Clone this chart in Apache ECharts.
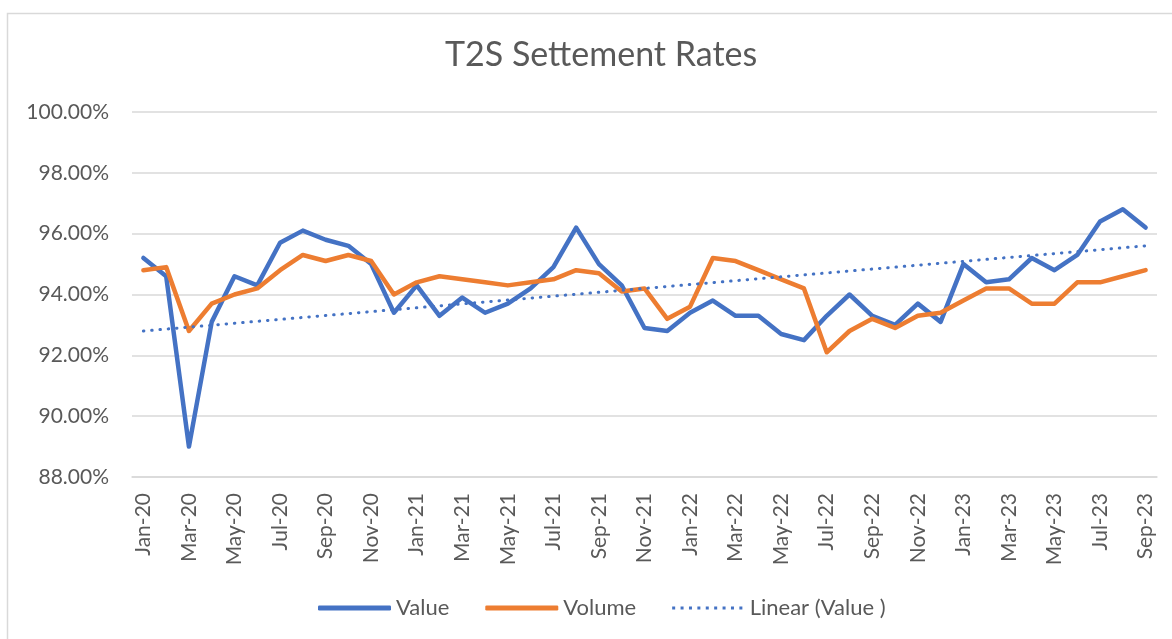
<!DOCTYPE html>
<html>
<head>
<meta charset="utf-8">
<title>T2S Settement Rates</title>
<script src="https://cdn.jsdelivr.net/npm/echarts@6/dist/echarts.min.js"></script>
<style>
  html, body { margin: 0; padding: 0; background: #fff; }
  #chart { width: 1172px; height: 639px; }
</style>
</head>
<body>
<div id="chart"></div>
<script>
// months Jan-20 .. Sep-23
const months = [
  'Jan-20', 'Feb-20', 'Mar-20', 'Apr-20', 'May-20', 'Jun-20', 'Jul-20', 'Aug-20', 'Sep-20', 'Oct-20', 'Nov-20', 'Dec-20',
  'Jan-21', 'Feb-21', 'Mar-21', 'Apr-21', 'May-21', 'Jun-21', 'Jul-21', 'Aug-21', 'Sep-21', 'Oct-21', 'Nov-21', 'Dec-21',
  'Jan-22', 'Feb-22', 'Mar-22', 'Apr-22', 'May-22', 'Jun-22', 'Jul-22', 'Aug-22', 'Sep-22', 'Oct-22', 'Nov-22', 'Dec-22',
  'Jan-23', 'Feb-23', 'Mar-23', 'Apr-23', 'May-23', 'Jun-23', 'Jul-23', 'Aug-23', 'Sep-23'
]

// settlement rate by value (%)
const valueRates = [
  95.2, 94.6, 89.0, 93.1, 94.6, 94.3, 95.7, 96.1, 95.8, 95.6, 95.0, 93.4,
  94.3, 93.3, 93.9, 93.4, 93.7, 94.2, 94.9, 96.2, 95.0, 94.3, 92.9, 92.8,
  93.4, 93.8, 93.3, 93.3, 92.7, 92.5, 93.3, 94.0, 93.3, 93.0, 93.7, 93.1,
  95.0, 94.4, 94.5, 95.2, 94.8, 95.3, 96.4, 96.8, 96.2
]

// settlement rate by volume (%)
const volumeRates = [
  94.8, 94.9, 92.8, 93.7, 94.0, 94.2, 94.8, 95.3, 95.1, 95.3, 95.1, 94.0,
  94.4, 94.6, 94.5, 94.4, 94.3, 94.4, 94.5, 94.8, 94.7, 94.1, 94.2, 93.2,
  93.6, 95.2, 95.1, 94.8, 94.5, 94.2, 92.1, 92.8, 93.2, 92.9, 93.3, 93.4,
  93.8, 94.2, 94.2, 93.7, 93.7, 94.4, 94.4, 94.6, 94.8
]

// Excel's linear trendline as drawn: its two ends
const trendEnds = [92.8, 95.6]
const trendLine = months.map((m, i) =>
  i === 0 ? trendEnds[0] : (i === months.length - 1 ? trendEnds[1] : null))

const textColor = '#595959'
const font = 'Lato, "Open Sans", sans-serif'

// small dotted icon for the trendline legend entry
let dots = 'path://M0,0M72,5'
for (let k = 0; k < 9; k++) dots += 'M' + (k * 8.4) + ',1h3v3h-3z'

const chart = echarts.init(document.getElementById('chart'))
chart.setOption({
  animation: false,
  textStyle: { fontFamily: font, color: textColor },
  title: {
    text: 'T2S Settement Rates',
    left: 440,
    top: 33,
    textStyle: { fontFamily: font, fontSize: 34, fontWeight: 'normal', color: textColor }
  },
  graphic: [
    {
      type: 'polyline',
      shape: { points: [[7.5, 660], [7.5, 13.5], [1180, 13.5]] },
      style: { stroke: '#d9d9d9', lineWidth: 1.5, fill: null },
      silent: true
    }
  ],
  grid: { left: 132, right: 15, top: 112, bottom: 162 },
  legend: {
    top: 592,
    left: 313,
    itemWidth: 73,
    itemHeight: 5,
    itemGap: 36,
    textStyle: { fontFamily: font, fontSize: 22, color: textColor },
    data: [
      { name: 'Value', icon: 'roundRect' },
      { name: 'Volume', icon: 'roundRect' },
      { name: 'Linear (Value )', icon: dots }
    ]
  },
  xAxis: {
    type: 'category',
    data: months,
    boundaryGap: true,
    axisLine: { lineStyle: { color: '#d9d9d9', width: 1.5 } },
    axisTick: { interval: 1, length: 6, lineStyle: { color: '#d9d9d9', width: 1.5 } },
    axisLabel: {
      interval: 1,
      rotate: 90,
      margin: 16,
      fontFamily: font,
      fontSize: 21,
      color: textColor
    }
  },
  yAxis: {
    type: 'value',
    min: 88,
    max: 100,
    interval: 2,
    axisLine: { show: false },
    axisTick: { show: false },
    splitLine: { lineStyle: { color: '#d9d9d9', width: 1.5 } },
    axisLabel: {
      margin: 23,
      fontFamily: font,
      fontSize: 21,
      color: textColor,
      formatter: v => v.toFixed(2) + '%'
    }
  },
  series: [
    {
      name: 'Value',
      type: 'line',
      data: valueRates,
      showSymbol: false,
      symbol: 'none',
      color: '#4472C4',
      lineStyle: { width: 4.5, color: '#4472C4', cap: 'round', join: 'round' }
    },
    {
      name: 'Volume',
      type: 'line',
      data: volumeRates,
      showSymbol: false,
      symbol: 'none',
      color: '#ED7D31',
      lineStyle: { width: 4.5, color: '#ED7D31', cap: 'round', join: 'round' }
    },
    {
      name: 'Linear (Value )',
      type: 'line',
      data: trendLine,
      connectNulls: true,
      showSymbol: false,
      symbol: 'none',
      color: '#4472C4',
      lineStyle: { width: 3, color: '#4472C4', type: [0.5, 7.8], cap: 'round' }
    }
  ]
})
</script>
</body>
</html>
